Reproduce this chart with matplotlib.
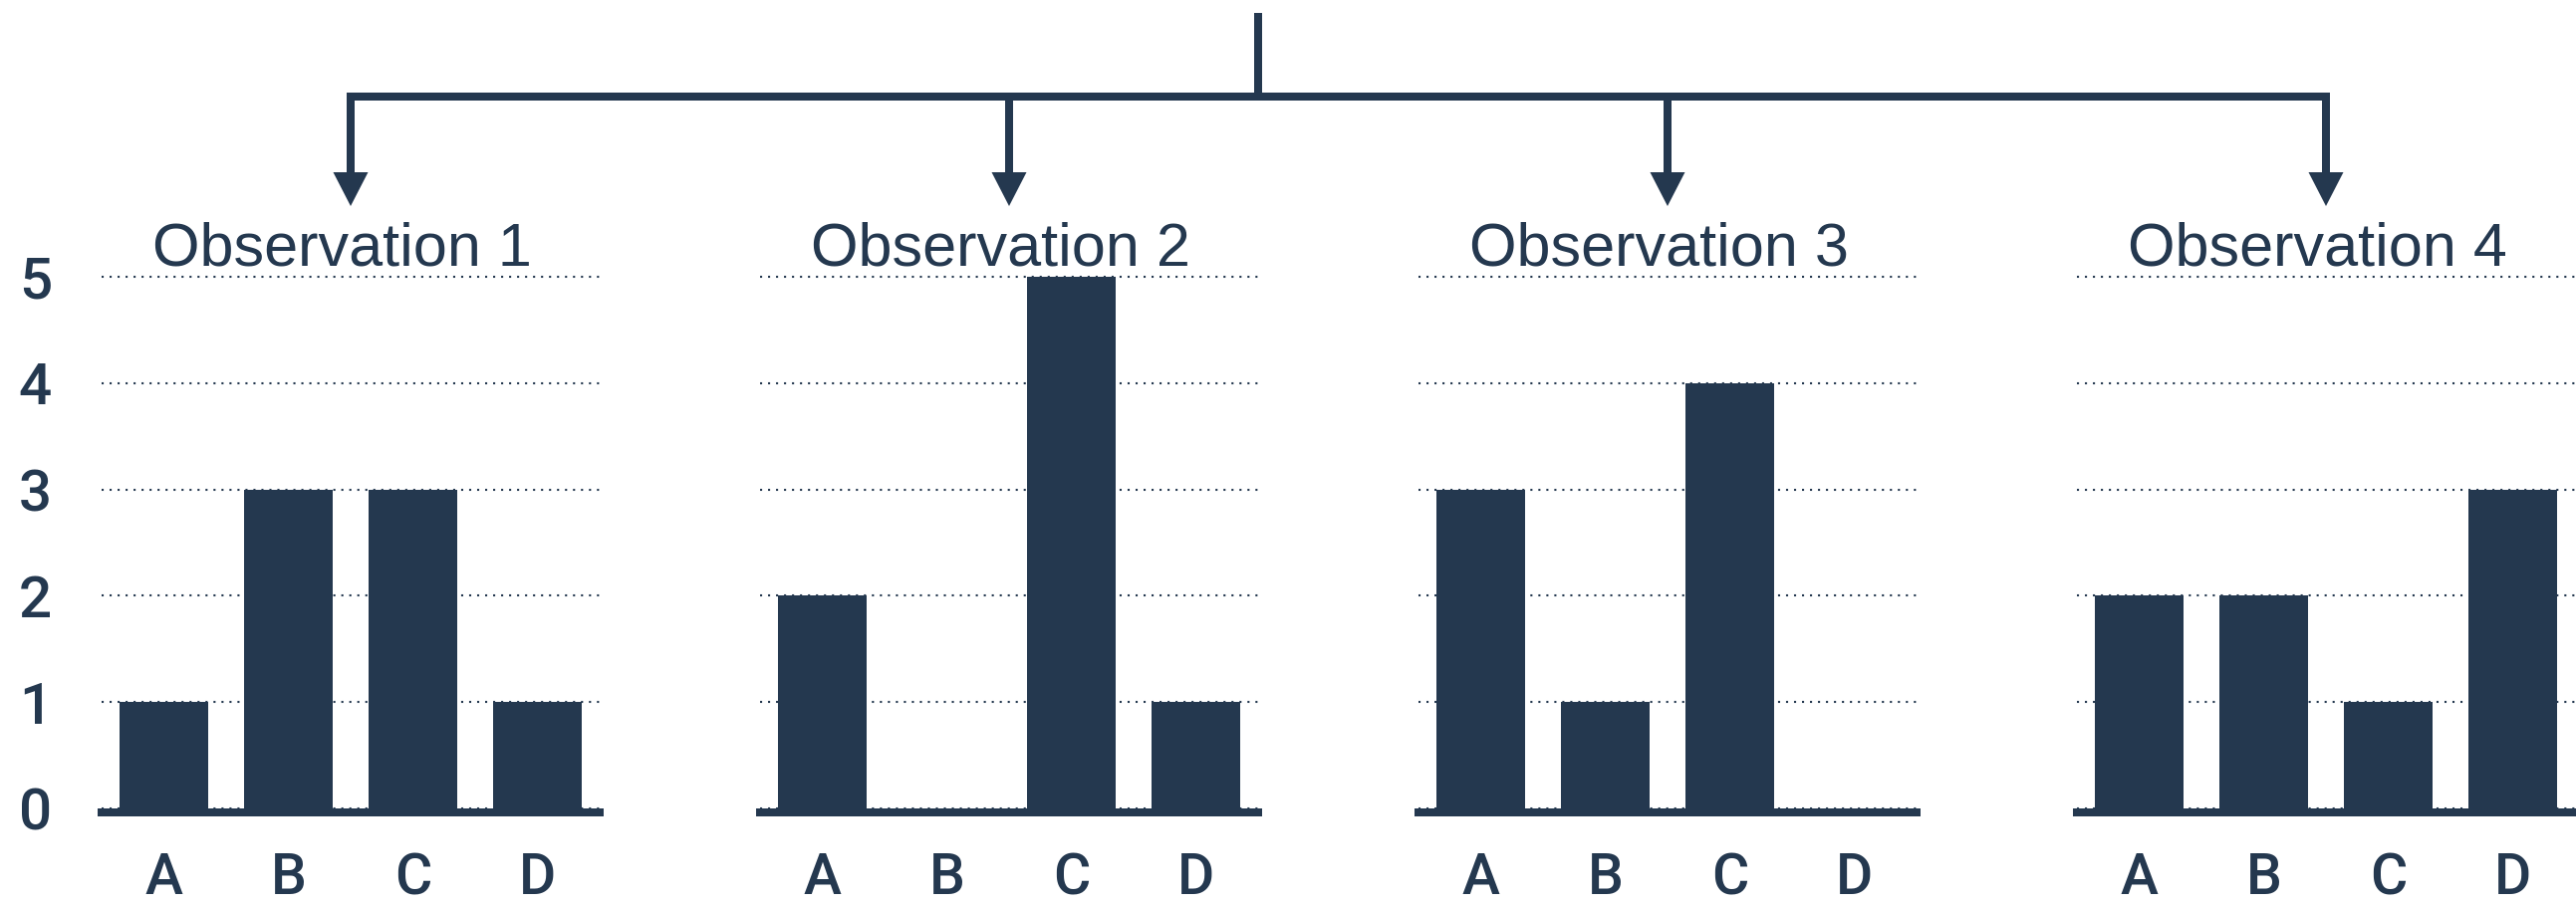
"""
Four small bar charts (one per observation) hanging off a tree of arrows.
Output: out.png
"""

import matplotlib
matplotlib.use("Agg")
import matplotlib.pyplot as plt
from matplotlib.patches import Polygon
from matplotlib.transforms import ScaledTranslation

NAVY = "#24384f"

CATEGORIES = ["A", "B", "C", "D"]
OBS_TITLES = ["Observation 1", "Observation 2", "Observation 3", "Observation 4"]
OBS_1 = [1, 3, 3, 1]
OBS_2 = [2, 0, 5, 1]
OBS_3 = [3, 1, 4, 0]
OBS_4 = [2, 2, 1, 3]
Y_TICKS = [0, 1, 2, 3, 4, 5]

# layout, in pixels of the 2586x909 output
W, H = 2586, 909
PANEL_LEFT = 102
PANEL_STEP = 661
PANEL_W = 500
ZERO_Y = 812          # pixel row of value 0
UNIT_PX = 106.8       # pixels per unit on the value axis
Y_TOP = 5.2
LINE_PX = 8
LW = LINE_PX * 72 / 100

TREE_ROOT_X = 1263
TREE_ROOT_TOP = 13
TREE_BAR_Y = 97
ARROW_BASE = 173
ARROW_TIP = 207
ARROW_HALF = 17.5

plt.rcParams["font.family"] = ["Liberation Sans", "DejaVu Sans"]

fig = plt.figure(figsize=(W / 100, H / 100), dpi=100)
fig.patch.set_facecolor("white")

series = [OBS_1, OBS_2, OBS_3, OBS_4]
axes = []
for i, (title, values) in enumerate(zip(OBS_TITLES, series)):
    left = (PANEL_LEFT + PANEL_STEP * i) / W
    bottom = (H - ZERO_Y) / H
    height = Y_TOP * UNIT_PX / H
    ax = fig.add_axes([left, bottom, PANEL_W / W, height])
    axes.append(ax)

    x = list(range(len(CATEGORIES)))
    ax.bar(x, values, width=0.71, color=NAVY, zorder=3, linewidth=0)

    ax.set_xlim(-0.5, len(CATEGORIES) - 0.5)
    ax.set_ylim(0, Y_TOP)
    ax.set_yticks(Y_TICKS)
    ax.yaxis.grid(True, linestyle=(0, (1, 2.85)), linewidth=1.5, color=NAVY, zorder=1)
    ax.set_axisbelow(True)
    for s in ax.spines.values():
        s.set_visible(False)

    # thick baseline sitting just under zero
    base = ax.axhline(0, color=NAVY, linewidth=LW, solid_capstyle="projecting",
                      clip_on=False, zorder=2)
    base.set_transform(ax.get_yaxis_transform()
                       + ScaledTranslation(0, -LW / 2 / 72, fig.dpi_scale_trans))

    ax.set_xticks(x)
    ax.set_xticklabels(CATEGORIES, family=["Roboto", "DejaVu Sans"],
                       fontweight="medium", fontsize=41, color=NAVY)
    ax.tick_params(axis="x", length=0, pad=31)
    ax.tick_params(axis="y", length=0, pad=36, labelsize=42, labelcolor=NAVY)
    if i == 0:
        for lab in ax.get_yticklabels():
            lab.set_family(["Roboto", "DejaVu Sans"])
            lab.set_fontweight("medium")
    else:
        ax.tick_params(axis="y", labelleft=False)

    ax.annotate(title, xy=(0.482, 5), xycoords=("axes fraction", "data"),
                xytext=(0, 8), textcoords="offset points",
                ha="center", va="baseline", fontsize=44, color=NAVY)

# arrow tree on a full-figure overlay in pixel coordinates
tree = fig.add_axes([0, 0, 1, 1])
tree.set_xlim(0, W)
tree.set_ylim(H, 0)
tree.axis("off")

centers = []
for ax in axes:
    pos = ax.get_position()
    centers.append((pos.x0 + pos.width / 2) * W)

tree.plot([TREE_ROOT_X, TREE_ROOT_X], [TREE_ROOT_TOP, TREE_BAR_Y],
          color=NAVY, linewidth=LW, solid_capstyle="butt")
tree.plot([centers[0], centers[0], centers[-1], centers[-1]],
          [ARROW_BASE + 2, TREE_BAR_Y, TREE_BAR_Y, ARROW_BASE + 2],
          color=NAVY, linewidth=LW, solid_joinstyle="miter", solid_capstyle="butt")
for cx in centers[1:-1]:
    tree.plot([cx, cx], [TREE_BAR_Y, ARROW_BASE + 2],
              color=NAVY, linewidth=LW, solid_capstyle="butt")
for cx in centers:
    tree.add_patch(Polygon([(cx - ARROW_HALF, ARROW_BASE), (cx + ARROW_HALF, ARROW_BASE),
                            (cx, ARROW_TIP)], closed=True, color=NAVY, linewidth=0))

fig.savefig("out.png", dpi=100, facecolor=fig.get_facecolor())
plt.close(fig)
